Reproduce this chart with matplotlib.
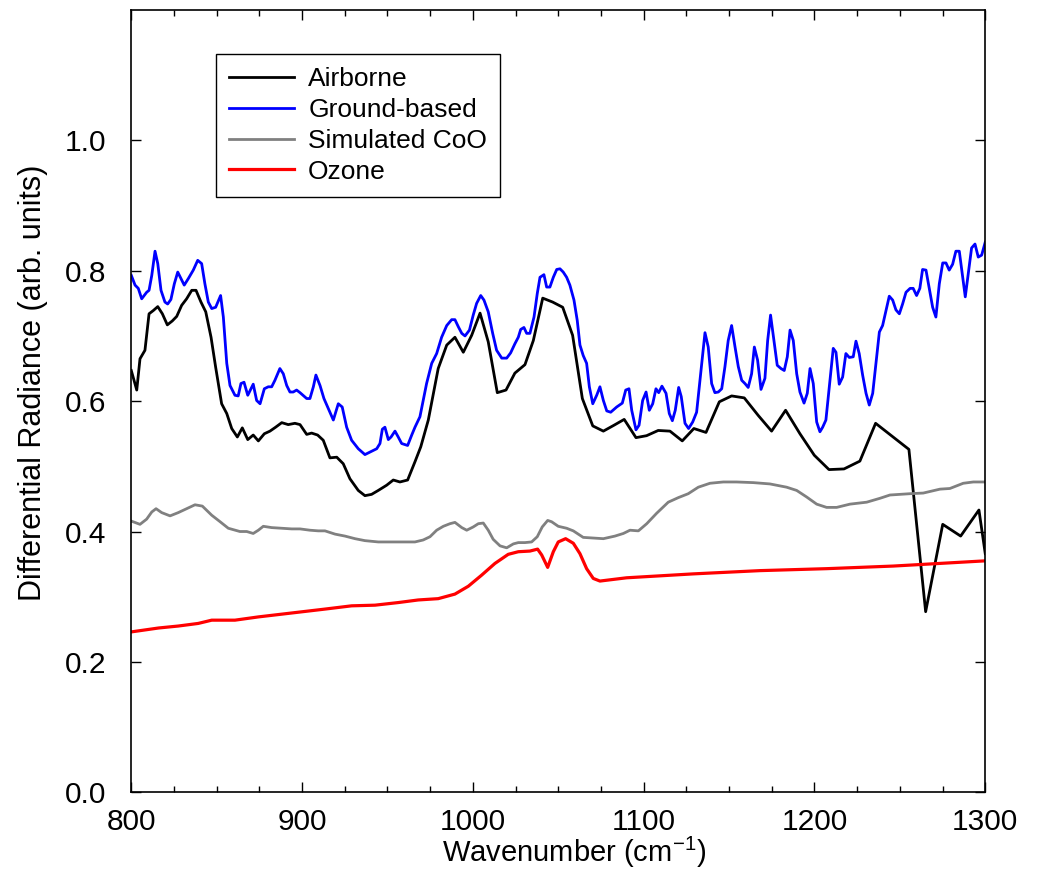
import matplotlib
matplotlib.use("Agg")
import matplotlib.pyplot as plt
from matplotlib.ticker import MultipleLocator

plt.rcParams['font.family'] = ['Liberation Sans', 'DejaVu Sans']
plt.rcParams['mathtext.default'] = 'regular'

# Airborne spectrum
air_x = [800, 803.2, 805.1, 808, 810.4, 812.9, 815.5, 818.2, 821.1, 824, 826.6, 829.5,
         832.4, 835.4, 837.9, 840.8, 843.6, 846.7, 849.4, 852.9, 855.9, 858.8, 862.1,
         865, 868.2, 871.4, 874.4, 877.9, 881.2, 884.5, 888.1, 891.9, 895.8, 898.8,
         902.7, 905.6, 909.1, 912.4, 916.3, 920.3, 924.1, 928, 932.9, 936.8, 940.7,
         944.6, 949.5, 953.4, 957.3, 961.8, 966.1, 969.5, 973.9, 979.7, 984.7, 989.5,
         994.4, 999.3, 1004.2, 1009, 1014.3, 1019.4, 1024.6, 1030.5, 1035.4, 1040.9,
         1046.7, 1052.6, 1058.4, 1064.1, 1070.2, 1076.4, 1082.6, 1088.6, 1095.5,
         1101.7, 1108.5, 1115.4, 1122.6, 1129.4, 1136.5, 1144.3, 1151.5, 1158.9,
         1167.1, 1174.9, 1183.1, 1191.5, 1199.9, 1208.5, 1217.3, 1226.6, 1235.8,
         1255.3, 1265.1, 1275.1, 1285.6, 1296.3, 1300]
air_y = [0.647, 0.617, 0.665, 0.678, 0.734, 0.739, 0.745, 0.734, 0.717, 0.723, 0.730, 0.747,
         0.757, 0.770, 0.770, 0.752, 0.737, 0.698, 0.652, 0.596, 0.581, 0.558, 0.545,
         0.559, 0.541, 0.548, 0.539, 0.550, 0.554, 0.560, 0.567, 0.564, 0.566, 0.564,
         0.549, 0.551, 0.548, 0.540, 0.513, 0.514, 0.504, 0.481, 0.463, 0.455, 0.457,
         0.463, 0.471, 0.479, 0.476, 0.479, 0.507, 0.530, 0.571, 0.650, 0.686, 0.698,
         0.675, 0.701, 0.735, 0.691, 0.613, 0.617, 0.643, 0.656, 0.693, 0.758,
         0.752, 0.744, 0.701, 0.604, 0.562, 0.554, 0.563, 0.572, 0.544,
         0.547, 0.555, 0.554, 0.539, 0.558, 0.552, 0.599, 0.608, 0.605,
         0.578, 0.554, 0.586, 0.550, 0.517, 0.495, 0.496, 0.508, 0.566,
         0.526, 0.277, 0.411, 0.393, 0.433, 0.366]

# Ground-based spectrum
gnd_x = [800, 802.2, 804.1, 806.1, 809, 810.4, 812, 813.9, 815.5, 817.4, 819.7, 821.3,
         823.2, 825.2, 827.2, 829.1, 831, 833.4, 836.3, 838.9, 841.2, 843.1, 845.1,
         847.1, 849.4, 852.3, 853.9, 855.9, 857.8, 860.7, 862.6, 864.2, 866, 868.2,
         871.4, 873.4, 875.4, 877.9, 880.2, 882.2, 884.1, 887, 889, 891, 892.9, 894.8,
         896.8, 898.8, 902.7, 904.6, 906.6, 908.1, 910.5, 912.8, 915.3, 918.3, 921.2,
         923.5, 926.1, 929, 932.9, 936.8, 940.7, 943.7, 945.6, 947, 948.5, 950.5,
         952.1, 954.4, 956.3, 958.3, 961.8, 964.2, 966.1, 969, 972.9, 975.9, 978.8,
         981.7, 984.7, 987.6, 989.5, 991.5, 993.5, 995.4, 998, 1000.2, 1002.2, 1004.6,
         1006.5, 1009, 1011.6, 1013.9, 1016.9, 1019.8, 1022.1, 1024.6, 1026.6, 1028,
         1029.9, 1031.5, 1033.4, 1035.8, 1037.7, 1039.3, 1041.6, 1043.2, 1045.1,
         1047.1, 1049.1, 1051, 1052.9, 1054.9, 1056.8, 1059.2, 1061.1, 1062.7, 1064.6,
         1066.6, 1068.2, 1070.2, 1072.5, 1074.4, 1076.4, 1078.4, 1080.7, 1084.2,
         1087.5, 1089.5, 1091.4, 1093, 1095.5, 1097.3, 1099.4, 1101.4, 1103.3, 1105.3,
         1107.2, 1108.8, 1110.7, 1113.1, 1115, 1116.8, 1118.5, 1120.5, 1122, 1124.2,
         1126.3, 1128.7, 1131, 1133.4, 1135.9, 1137.8, 1139.8, 1141.7, 1143.7, 1145.7,
         1147.6, 1149.5, 1151.5, 1153.5, 1155.4, 1157.4, 1159.3, 1161.2, 1163.2,
         1164.8, 1166.7, 1168.7, 1171, 1172.6, 1174.3, 1176.3, 1178.2, 1180.4, 1182.3,
         1184.1, 1185.7, 1187.6, 1189.6, 1191.5, 1193.9, 1195.8, 1197.4, 1199.3,
         1201.3, 1203.2, 1204.8, 1206.7, 1209.1, 1211, 1212.6, 1214.5, 1216.5, 1218.4,
         1220.4, 1222.7, 1224.3, 1226.2, 1228.2, 1230.2, 1232.1, 1234.1, 1236, 1238,
         1239.9, 1241.9, 1243.8, 1245.8, 1247.7, 1249.7, 1251.6, 1253.6, 1256, 1257.8,
         1259.8, 1261.7, 1263.3, 1265.3, 1267.2, 1269.2, 1271.1, 1273.1, 1275.1, 1277,
         1278.9, 1280.9, 1282.8, 1284.8, 1286.8, 1288.3, 1290.1, 1292, 1294, 1295.9,
         1297.9, 1300]
gnd_y = [0.793, 0.778, 0.773, 0.757, 0.767, 0.770, 0.793, 0.830, 0.811, 0.770, 0.752, 0.749,
         0.756, 0.780, 0.798, 0.788, 0.778, 0.788, 0.801, 0.816, 0.811, 0.780, 0.752,
         0.742, 0.744, 0.762, 0.729, 0.658, 0.624, 0.609, 0.608, 0.627, 0.629, 0.609,
         0.626, 0.601, 0.596, 0.619, 0.622, 0.622, 0.632, 0.650, 0.642, 0.624, 0.614, 0.614,
         0.617, 0.613, 0.604, 0.604, 0.622, 0.640, 0.624, 0.604, 0.589, 0.571, 0.596,
         0.591, 0.560, 0.540, 0.527, 0.518, 0.523, 0.527, 0.535, 0.557, 0.560, 0.541,
         0.545, 0.554, 0.545, 0.535, 0.532, 0.548, 0.560, 0.576, 0.627, 0.658, 0.673,
         0.698, 0.716, 0.725, 0.725, 0.714, 0.704, 0.700, 0.709, 0.732, 0.750, 0.762,
         0.755, 0.737, 0.704, 0.678, 0.666, 0.666, 0.674, 0.688, 0.698, 0.710,
         0.713, 0.704, 0.704, 0.729, 0.765, 0.790, 0.794, 0.775, 0.775,
         0.790, 0.802, 0.803, 0.798, 0.790, 0.778, 0.755, 0.724, 0.686, 0.670,
         0.658, 0.622, 0.596, 0.609, 0.622, 0.601, 0.585, 0.583, 0.591,
         0.597, 0.617, 0.619, 0.586, 0.556, 0.563, 0.601, 0.614, 0.586, 0.596,
         0.619, 0.613, 0.623, 0.612, 0.581, 0.570, 0.586, 0.621, 0.607, 0.566,
         0.558, 0.568, 0.583, 0.642, 0.705, 0.683, 0.627, 0.613, 0.614, 0.619,
         0.653, 0.693, 0.716, 0.683, 0.653, 0.632, 0.627, 0.621, 0.642,
         0.683, 0.663, 0.618, 0.635, 0.693, 0.732, 0.693, 0.655, 0.650, 0.647,
         0.668, 0.709, 0.693, 0.642, 0.614, 0.597, 0.612, 0.650, 0.627,
         0.568, 0.553, 0.560, 0.571, 0.632, 0.681, 0.675, 0.626, 0.637, 0.673,
         0.667, 0.668, 0.692, 0.673, 0.640, 0.612, 0.594, 0.612, 0.658, 0.706,
         0.716, 0.739, 0.761, 0.755, 0.740, 0.734, 0.749, 0.767, 0.773, 0.773,
         0.762, 0.773, 0.802, 0.801, 0.773, 0.744, 0.729, 0.780, 0.812, 0.812,
         0.801, 0.810, 0.830, 0.830, 0.790, 0.760, 0.796, 0.835, 0.841, 0.821,
         0.824, 0.844]

# Simulated CoO
sim_x = [800, 805.1, 809, 812, 814.5, 817.8, 822.7, 827.5, 832.4, 837.3, 841.6, 847.1,
         852, 856.8, 863.6, 867.6, 871.4, 874.4, 877.3, 882.2, 888.1, 893.9, 898.8,
         904.6, 909.5, 913.4, 919.3, 925.1, 931, 936.8, 944.6, 952.4, 960.2, 966.1,
         970.9, 974.9, 978.8, 982.7, 986.6, 989.5, 993.5, 996.4, 1000.2, 1003.2,
         1006.1, 1009, 1011.9, 1015.9, 1019.8, 1023.7, 1026.6, 1030.5, 1034.4, 1037.7,
         1040.6, 1043.8, 1046.1, 1050, 1054.9, 1058.8, 1064.6, 1070.5, 1076.4, 1083.2,
         1088.1, 1092, 1096.9, 1101.8, 1107.6, 1114.4, 1120.3, 1126.1, 1132, 1138.8,
         1146.6, 1154.4, 1164.2, 1173.9, 1183.7, 1189.6, 1195.4, 1201.3, 1207.1, 1213,
         1220.8, 1230.6, 1238.4, 1244.2, 1255.9, 1263.7, 1273.5, 1279.3, 1287.1, 1293,
         1300]
sim_y = [0.416, 0.411, 0.419, 0.430, 0.435, 0.429, 0.424, 0.429, 0.435, 0.441, 0.439, 0.425,
         0.415, 0.405, 0.400, 0.400, 0.397, 0.402, 0.408, 0.406, 0.405, 0.404, 0.404,
         0.402, 0.401, 0.401, 0.396, 0.393, 0.389, 0.386, 0.384, 0.384, 0.384, 0.384,
         0.387, 0.392, 0.402, 0.408, 0.412, 0.414, 0.406, 0.402, 0.407, 0.412,
         0.413, 0.402, 0.388, 0.378, 0.375, 0.381, 0.383, 0.383, 0.384, 0.392,
         0.407, 0.417, 0.415, 0.408, 0.405, 0.401, 0.391, 0.390, 0.389, 0.393,
         0.397, 0.402, 0.401, 0.412, 0.428, 0.445, 0.452, 0.458, 0.468, 0.474,
         0.476, 0.476, 0.475, 0.473, 0.468, 0.463, 0.453, 0.442, 0.437, 0.437,
         0.442, 0.445, 0.451, 0.456, 0.458, 0.459, 0.465, 0.466, 0.474, 0.476,
         0.476]

# Ozone
oz_x = [800, 816, 827.5, 839.2, 847.1, 860.7, 874.4, 893.9, 913.4, 929, 942.7, 956.3,
        968, 979.7, 989.5, 997.3, 1005.1, 1012.9, 1020.7, 1026.6, 1033.4, 1037.9,
        1040.3, 1043.8, 1047.1, 1050, 1054.3, 1058.8, 1062.7, 1066.6, 1070.5, 1074.4,
        1090, 1129, 1168.1, 1207.1, 1246.1, 1300]
oz_y = [0.246, 0.252, 0.255, 0.259, 0.264, 0.264, 0.269, 0.275, 0.281, 0.286, 0.287, 0.291,
        0.295, 0.297, 0.304, 0.316, 0.333, 0.351, 0.365, 0.369, 0.370, 0.373,
        0.364, 0.345, 0.369, 0.384, 0.389, 0.382, 0.366, 0.343, 0.328, 0.324,
        0.329, 0.335, 0.340, 0.343, 0.347, 0.355]

fig = plt.figure(figsize=(10.37, 8.71), dpi=100)
ax = fig.add_axes([0.1266, 0.0904, 0.8235, 0.8981])

ax.plot(air_x, air_y, color='black', lw=2.0, label='Airborne')
ax.plot(gnd_x, gnd_y, color='#0000ff', lw=2.0, label='Ground-based')
ax.plot(sim_x, sim_y, color='#808080', lw=2.0, label='Simulated CoO')
ax.plot(oz_x, oz_y, color='#ff0000', lw=2.3, label='Ozone')

ax.set_xlim(800, 1300)
ax.set_ylim(0, 1.2)
ax.xaxis.set_major_locator(MultipleLocator(100))
ax.xaxis.set_minor_locator(MultipleLocator(25))
ax.set_yticks([0.0, 0.2, 0.4, 0.6, 0.8, 1.0])
ax.set_yticklabels(['0.0', '0.2', '0.4', '0.6', '0.8', '1.0'])
ax.tick_params(which='both', direction='in', top=True, right=True, width=1)
ax.tick_params(which='major', length=7, labelsize=21.5)
ax.tick_params(axis='x', which='major', pad=11)
ax.tick_params(axis='y', which='major', pad=18)
ax.tick_params(which='minor', length=4)
for s in ax.spines.values():
    s.set_linewidth(1.2)

ax.set_xlabel('Wavenumber (cm$^{-1}$)', fontsize=21)
ax.xaxis.set_label_coords(0.518, -0.054)
ax.set_ylabel('Differential Radiance (arb. units)', fontsize=22)
ax.yaxis.set_label_coords(-0.097, 0.523)

leg = ax.legend(loc='upper left', bbox_to_anchor=(0.099, 0.944), borderaxespad=0,
                fontsize=19, frameon=True, fancybox=False, framealpha=1,
                handlelength=2.45, handletextpad=0.55, labelspacing=0.26,
                borderpad=0.5)
leg.get_frame().set_edgecolor('black')
leg.get_frame().set_linewidth(1.0)

fig.savefig('out.png', dpi=100)
